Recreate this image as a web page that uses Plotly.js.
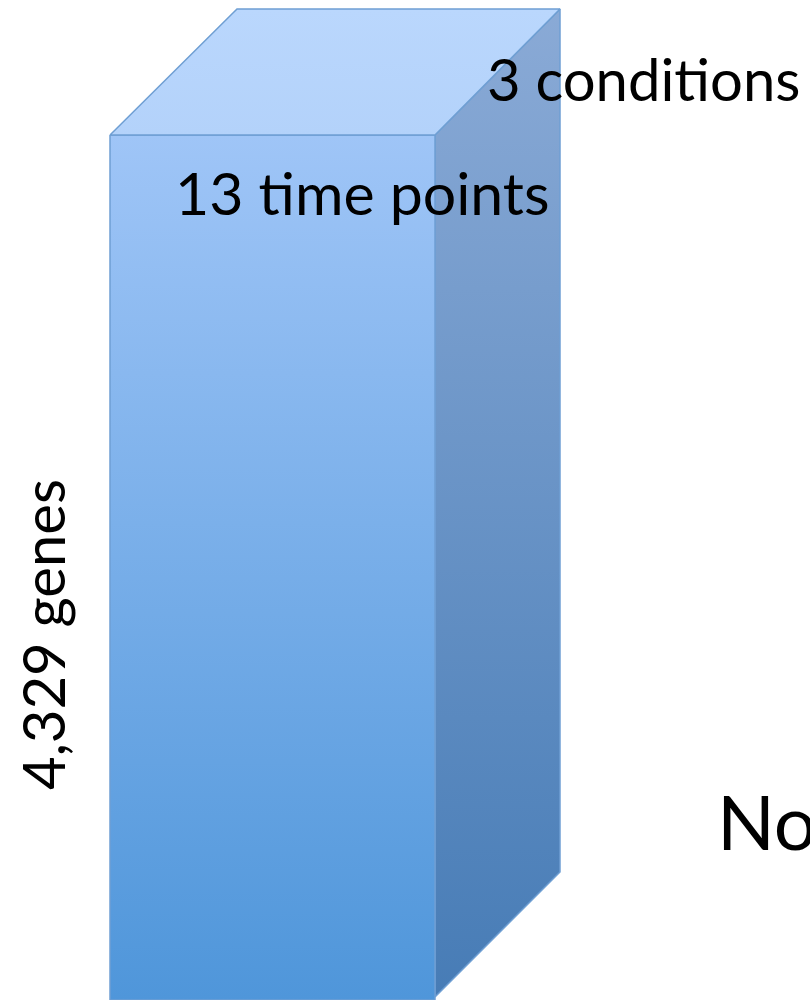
<!DOCTYPE html>
<html>
<head>
<meta charset="utf-8">
<script src="https://cdn.plot.ly/plotly-3.0.1.min.js"></script>
<style>
  html, body { margin: 0; padding: 0; background: #fff; }
  #chart { width: 810px; height: 1000px; }
</style>
</head>
<body>
<div id="chart"></div>
<script>
// Data cube dimensions
const dimLabels = ['4,329 genes', '13 time points', '3 conditions'];
const sideLabel = ['No'];

// Cube face outlines (drawing units match the 810 x 1000 canvas)
const frontX = [110, 435, 435, 110, 110];
const frontY = [135, 135, 1000, 1000, 135];
const topX = [110, 237, 560, 435, 110];
const topY = [135, 9, 9, 135, 135];
const sideX = [435, 560, 560, 435, 435];
const sideY = [135, 9, 872, 997, 135];

const edge = { color: '#6f9fd3', width: 1.5 };

// y axis is reversed, so colorscale 0 sits at the bottom of each face
const traces = [
  {
    x: sideX, y: sideY, type: 'scatter', mode: 'lines', fill: 'toself',
    line: edge,
    fillgradient: { type: 'vertical', colorscale: [[0, '#477cb6'], [1, '#8aaad6']] },
    hoverinfo: 'skip'
  },
  {
    x: frontX, y: frontY, type: 'scatter', mode: 'lines', fill: 'toself',
    line: edge,
    fillgradient: { type: 'vertical', colorscale: [[0, '#4f96da'], [1, '#9fc5f7']] },
    hoverinfo: 'skip'
  },
  {
    x: topX, y: topY, type: 'scatter', mode: 'lines', fill: 'toself',
    line: edge,
    fillgradient: { type: 'vertical', colorscale: [[0, '#b3d2fa'], [1, '#bad7fd']] },
    hoverinfo: 'skip'
  }
];

const font = { family: 'Lato, "Open Sans", sans-serif', color: '#000' };

const layout = {
  width: 810, height: 1000,
  margin: { l: 0, r: 0, t: 0, b: 0 },
  paper_bgcolor: '#ffffff', plot_bgcolor: '#ffffff',
  showlegend: false,
  xaxis: { range: [0, 810], visible: false, fixedrange: true },
  yaxis: { range: [1000, 0], visible: false, fixedrange: true },
  annotations: [
    { x: 42, y: 635, text: dimLabels[0], textangle: -90, showarrow: false,
      xanchor: 'center', yanchor: 'middle', font: Object.assign({ size: 58 }, font) },
    { x: 173, y: 192, text: dimLabels[1], showarrow: false,
      xanchor: 'left', yanchor: 'middle', font: Object.assign({ size: 59 }, font) },
    { x: 485, y: 78, text: dimLabels[2], showarrow: false,
      xanchor: 'left', yanchor: 'middle', font: Object.assign({ size: 58 }, font) },
    { x: 715, y: 820, text: sideLabel[0], showarrow: false,
      xanchor: 'left', yanchor: 'middle', font: Object.assign({ size: 76 }, font) }
  ]
};

Plotly.newPlot('chart', traces, layout, { displayModeBar: false, staticPlot: true });
</script>
</body>
</html>
